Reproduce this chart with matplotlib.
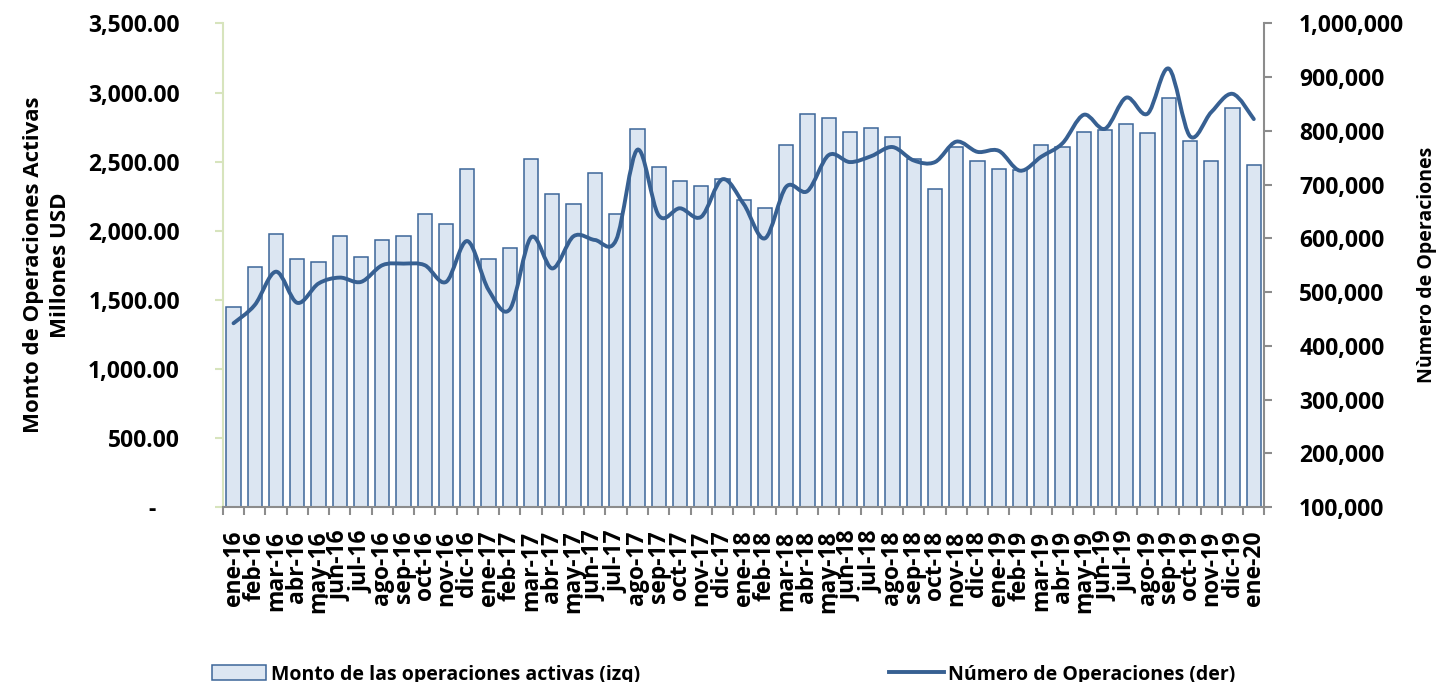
import numpy as np
import matplotlib
matplotlib.use("Agg")
import matplotlib.pyplot as plt
from matplotlib.path import Path
from matplotlib.patches import PathPatch, Patch
from matplotlib.lines import Line2D
from matplotlib.ticker import FuncFormatter

plt.rcParams['font.family'] = ['Open Sans', 'DejaVu Sans']
plt.rcParams['font.weight'] = 'bold'

# --- DATOS ---
meses = ['ene', 'feb', 'mar', 'abr', 'may', 'jun', 'jul', 'ago', 'sep', 'oct', 'nov', 'dic']
etiquetas = [f'{m}-{a}' for a in ['16', '17', '18', '19'] for m in meses] + ['ene-20']

# Monto de operaciones activas (millones USD, eje izquierdo)
monto = [1450, 1738, 1979, 1793, 1776, 1964, 1808, 1935, 1964, 2121, 2049, 2446,
         1793, 1878, 2519, 2263, 2193, 2417, 2121, 2733, 2463, 2362, 2321, 2374,
         2220, 2164, 2617, 2847, 2818, 2717, 2746, 2675, 2521, 2304, 2605, 2504,
         2446, 2440, 2617, 2605, 2717, 2731, 2774, 2704, 2960, 2646, 2504, 2887,
         2475]

# Numero de operaciones (eje derecho)
operaciones = [442000, 476000, 538000, 480000, 516000, 527000, 519000, 550000, 553000, 550000, 519000, 595000,
               504000, 468000, 602000, 544000, 604000, 597000, 597000, 765000, 643000, 656000, 640000, 710000,
               664000, 600000, 696000, 688000, 755000, 742000, 753000, 770000, 745000, 742000, 780000, 761000,
               763000, 726000, 752000, 777000, 830000, 804000, 862000, 832000, 916000, 790000, 835000, 869000,
               822000]

color_barra = '#dce6f2'
color_borde = '#3c6699'
color_linea = '#376092'
gris = '#8c8c8c'
verde = '#d7e4bd'
fs_ticks = 16.5

x = np.arange(len(monto))

fig = plt.figure(figsize=(14.38, 6.82), dpi=100)
ax = fig.add_axes([0.155, 0.2566, 0.7243, 0.709])

ax.bar(x, monto, width=0.67, color=color_barra, edgecolor=color_borde, linewidth=1.1, zorder=2)
ax.set_xlim(-0.5, len(monto) - 0.5)
ax.set_ylim(0, 3500)
ax.set_yticks(np.arange(0, 3501, 500))
ax.yaxis.set_major_formatter(FuncFormatter(lambda v, p: '-    ' if v == 0 else f'{v:,.2f}'))

ax.set_xticks(x)
ax.set_xticklabels(etiquetas, rotation=90, fontsize=fs_ticks, fontweight='bold')
ax.set_xticks(np.arange(-0.5, len(monto), 1), minor=True)
ax.tick_params(axis='x', which='major', length=0, pad=17)
ax.tick_params(axis='x', which='minor', length=6, width=1.5, color=gris, direction='out')
ax.tick_params(axis='y', length=6, width=1.5, color=verde, labelsize=fs_ticks, pad=25)

for s in ['top', 'right']:
    ax.spines[s].set_visible(False)
ax.spines['left'].set_color(verde)
ax.spines['left'].set_linewidth(1.5)
ax.spines['bottom'].set_color(gris)
ax.spines['bottom'].set_linewidth(1.5)

ax.set_ylabel('Monto de Operaciones Activas\nMillones USD', fontsize=16, fontweight='bold',
              linespacing=1.4, labelpad=12)

# Eje derecho con la linea suavizada
ax2 = ax.twinx()
ax2.set_ylim(100000, 1000000)
ax2.set_yticks(np.arange(100000, 1000001, 100000))
ax2.yaxis.set_major_formatter(FuncFormatter(lambda v, p: f'{v:,.0f}'))
ax2.tick_params(axis='y', length=6, width=1.5, color=gris, labelsize=fs_ticks, pad=19)
for s in ['top', 'left', 'bottom']:
    ax2.spines[s].set_visible(False)
ax2.spines['right'].set_color(gris)
ax2.spines['right'].set_linewidth(1.5)
ax2.set_ylabel('Nùmero de Operaciones', fontsize=14, fontweight='bold', labelpad=9)

# curva suavizada tipo Excel (Catmull-Rom -> Bezier)
pts = np.column_stack([x, operaciones]).astype(float)
n = len(pts)
verts = [tuple(pts[0])]
codes = [Path.MOVETO]
for i in range(n - 1):
    p0 = pts[max(i - 1, 0)]
    p1 = pts[i]
    p2 = pts[i + 1]
    p3 = pts[min(i + 2, n - 1)]
    c1 = p1 + (p2 - p0) / 6
    c2 = p2 - (p3 - p1) / 6
    verts += [tuple(c1), tuple(c2), tuple(p2)]
    codes += [Path.CURVE4] * 3
ax2.add_patch(PathPatch(Path(verts, codes), fill=False, edgecolor=color_linea,
                        linewidth=2.8, capstyle='round', joinstyle='round', zorder=3))

handles = [Patch(facecolor=color_barra, edgecolor=color_borde, linewidth=1.1),
           Line2D([0], [0], color=color_linea, linewidth=2.8)]
fig.legend(handles, ['Monto de las operaciones activas (izq)', 'Número de Operaciones (der)'],
           loc='lower left', bbox_to_anchor=(0.1405, -0.018), ncol=2, frameon=False,
           prop={'size': 14, 'weight': 'bold'}, handlelength=2.8, handleheight=0.8,
           columnspacing=12.8, handletextpad=0.25, borderpad=0)

fig.savefig('out.png', dpi=100, facecolor='white')
